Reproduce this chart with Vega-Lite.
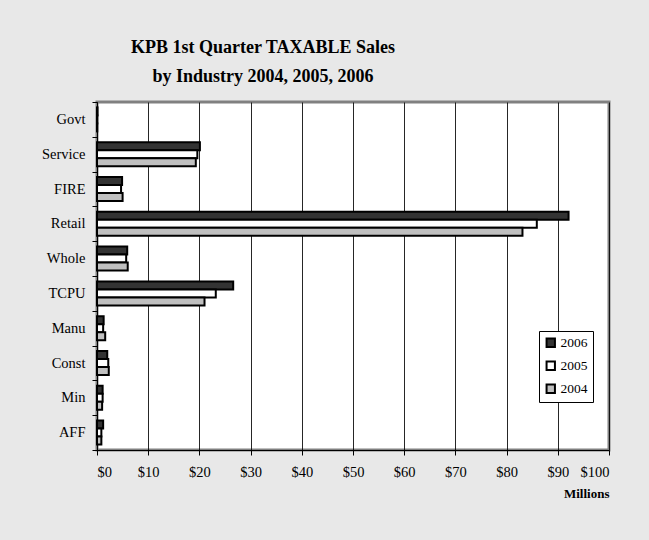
{
  "$schema": "https://vega.github.io/schema/vega-lite/v6.json",
  "autosize": {"type": "none"},
  "width": 512,
  "height": 348,
  "padding": {"left": 97, "top": 102, "right": 40, "bottom": 90},
  "background": "#e8e8e8",
  "title": {
    "text": ["KPB 1st Quarter TAXABLE Sales", "by Industry 2004, 2005, 2006"],
    "font": "Liberation Serif",
    "fontSize": 18,
    "fontWeight": "bold",
    "color": "#000000",
    "lineHeight": 29,
    "anchor": "middle",
    "dx": -90,
    "offset": 8
  },
  "data": {
    "values": [
      {"industry": "Govt", "year": "2006", "sales": 0.1},
      {"industry": "Govt", "year": "2005", "sales": 0.05},
      {"industry": "Govt", "year": "2004", "sales": 0.05},
      {"industry": "Service", "year": "2006", "sales": 20.1},
      {"industry": "Service", "year": "2005", "sales": 19.6},
      {"industry": "Service", "year": "2004", "sales": 19.3},
      {"industry": "FIRE", "year": "2006", "sales": 4.9},
      {"industry": "FIRE", "year": "2005", "sales": 4.7},
      {"industry": "FIRE", "year": "2004", "sales": 5.0},
      {"industry": "Retail", "year": "2006", "sales": 92.1},
      {"industry": "Retail", "year": "2005", "sales": 85.9},
      {"industry": "Retail", "year": "2004", "sales": 83.1},
      {"industry": "Whole", "year": "2006", "sales": 5.9},
      {"industry": "Whole", "year": "2005", "sales": 5.7},
      {"industry": "Whole", "year": "2004", "sales": 6.0},
      {"industry": "TCPU", "year": "2006", "sales": 26.6},
      {"industry": "TCPU", "year": "2005", "sales": 23.2},
      {"industry": "TCPU", "year": "2004", "sales": 21.0},
      {"industry": "Manu", "year": "2006", "sales": 1.3},
      {"industry": "Manu", "year": "2005", "sales": 1.2},
      {"industry": "Manu", "year": "2004", "sales": 1.6},
      {"industry": "Const", "year": "2006", "sales": 2.0},
      {"industry": "Const", "year": "2005", "sales": 2.2},
      {"industry": "Const", "year": "2004", "sales": 2.3},
      {"industry": "Min", "year": "2006", "sales": 1.1},
      {"industry": "Min", "year": "2005", "sales": 1.1},
      {"industry": "Min", "year": "2004", "sales": 1.0},
      {"industry": "AFF", "year": "2006", "sales": 1.2},
      {"industry": "AFF", "year": "2005", "sales": 0.85},
      {"industry": "AFF", "year": "2004", "sales": 0.85}
    ]
  },
  "mark": {"type": "bar", "stroke": "#000000", "strokeWidth": 2},
  "encoding": {
    "y": {
      "field": "industry",
      "type": "nominal",
      "sort": ["Govt", "Service", "FIRE", "Retail", "Whole", "TCPU", "Manu", "Const", "Min", "AFF"],
      "scale": {"paddingInner": 0, "paddingOuter": 0},
      "axis": {
        "title": null,
        "tickBand": "extent",
        "labelFont": "Liberation Serif",
        "labelFontSize": 14.5,
        "labelColor": "#000000",
        "labelPadding": 7,
        "tickSize": 5,
        "tickColor": "#000000",
        "domainColor": "#000000",
        "domainWidth": 1,
        "grid": false
      }
    },
    "yOffset": {
      "field": "year",
      "type": "nominal",
      "sort": ["2006", "2005", "2004"],
      "scale": {"paddingInner": 0, "paddingOuter": 0.675}
    },
    "x": {
      "field": "sales",
      "type": "quantitative",
      "scale": {"domain": [0, 100], "nice": false},
      "axis": {
        "title": "Millions",
        "titleFont": "Liberation Serif",
        "titleFontSize": 13,
        "titleFontWeight": "bold",
        "titleColor": "#000000",
        "titleAnchor": "end",
        "titlePadding": 9,
        "values": [0, 10, 20, 30, 40, 50, 60, 70, 80, 90, 100],
        "labelExpr": "'$' + datum.value",
        "labelFont": "Liberation Serif",
        "labelFontSize": 14.5,
        "labelColor": "#000000",
        "labelPadding": 10,
        "tickSize": 5,
        "tickColor": "#000000",
        "domainColor": "#000000",
        "grid": true,
        "gridColor": "#000000",
        "gridWidth": 1,
        "gridOpacity": 0.85
      }
    },
    "color": {
      "field": "year",
      "type": "nominal",
      "sort": ["2006", "2005", "2004"],
      "scale": {"domain": ["2006", "2005", "2004"], "range": ["#333333", "#ffffff", "#c0c0c0"]},
      "legend": {
        "title": null,
        "orient": "none",
        "legendX": 442,
        "legendY": 229,
        "fillColor": "#ffffff",
        "strokeColor": "#000000",
        "padding": 5,
        "rowPadding": 6,
        "symbolType": "square",
        "symbolSize": 70,
        "symbolStrokeColor": "#000000",
        "symbolStrokeWidth": 2,
        "labelFont": "Liberation Serif",
        "labelFontSize": 13.5,
        "labelColor": "#000000",
        "labelOffset": 3
      }
    }
  },
  "config": {
    "view": {"stroke": "#808080", "strokeWidth": 3, "fill": "#ffffff"}
  }
}
